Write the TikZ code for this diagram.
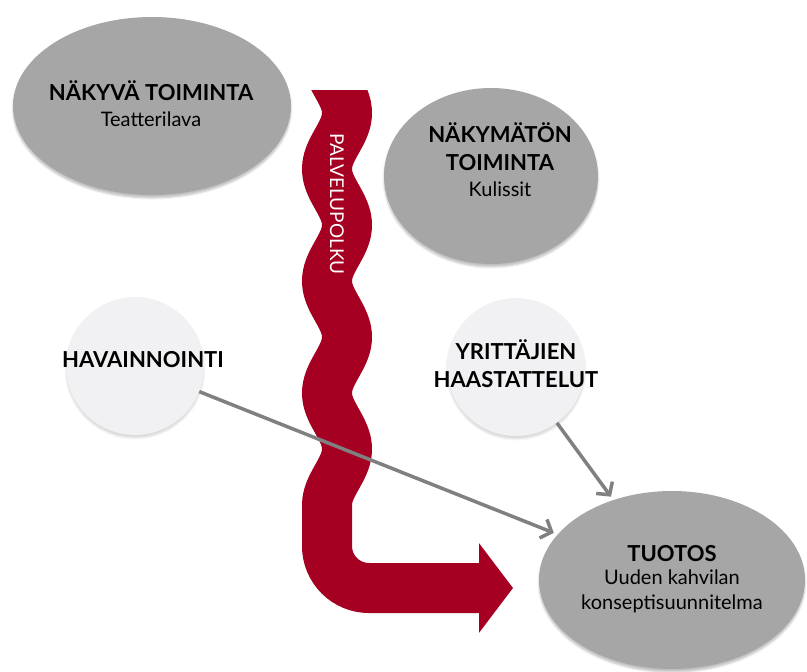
\documentclass[tikz,border=0pt]{standalone}
\usepackage{fontspec}
\setmainfont{Lato}
\usetikzlibrary{arrows.meta,positioning,shapes.geometric,shadows.blur}
\definecolor{blobgray}{HTML}{A6A6A6}
\definecolor{dotgray}{HTML}{F1F1F3}
\definecolor{pathred}{HTML}{A50021}
\definecolor{flowgray}{HTML}{808080}

\begin{document}
\begin{tikzpicture}[
    x=1pt, y=-1pt,
    blob/.style={ellipse, fill=blobgray, inner sep=0pt,
                 blur shadow={shadow xshift=0pt, shadow yshift=-3pt, shadow opacity=25}},
    dot/.style={circle, fill=dotgray, inner sep=0pt, minimum size=138pt,
                blur shadow={shadow xshift=0pt, shadow yshift=-3pt, shadow opacity=15}},
    title/.style={align=center, inner sep=1pt, font=\bfseries\fontsize{22}{28}\selectfont},
    sub/.style={align=center, inner sep=1pt, font=\fontsize{20}{25}\selectfont},
    flow/.style={-{Straight Barb[length=9pt, width=20pt]}, line width=3.5pt,
                 draw=flowgray, shorten >=4pt}]
  \useasboundingbox (0,0) rectangle (807,672);
  % ellipses and circles
  \node[blob, minimum width=278pt, minimum height=178pt] (nakyva) at (152,106) {};
  \node[blob, minimum width=214pt, minimum height=176pt] (nakymaton) at (491,176) {};
  \node[dot] (hav) at (135,366) {};
  \node[dot] (yrit) at (516,367) {};
  \node[blob, minimum width=266pt, minimum height=178pt] (tuotos) at (672,580) {};
  % texts
  \node[title] (nakyvat) at (151,91) {NÄKYVÄ TOIMINTA};
  \node[sub, below=8pt of nakyvat] (teatteri) {Teatterilava};
  \node[title] (nakymatont) at (500,147) {NÄKYMÄTÖN\\TOIMINTA};
  \node[sub, below=8pt of nakymatont] (kulissit) {Kulissit};
  \node[title] (havt) at (143,360) {HAVAINNOINTI};
  \node[title] (yritt) at (516,364) {YRITTÄJIEN\\HAASTATTELUT};
  \node[title] (tuotost) at (672,554) {TUOTOS};
  \node[sub, below=5pt of tuotost] (kahvila) {Uuden kahvilan\\konseptisuunnitelma};
  % palvelupolku
  \begin{scope}
    \clip (0,90) rectangle (807,672);
    \draw[pathred, line width=50pt, -{Triangle[length=34pt, width=88pt]}]
      plot[domain=72:505, samples=90, smooth] ({337+10*sin((\x-85)/112*360)}, \x)
      -- (327,546) arc[start angle=180, end angle=90, radius=42] -- (513,588);
  \end{scope}
  \node[rotate=-90, text=white, font=\fontsize{19}{20}\selectfont] (palvelu) at (337,204) {PALVELUPOLKU};
  % arrows
  \draw[flow] (hav) -- (tuotos);
  \draw[flow] (yrit) -- (tuotos);
\end{tikzpicture}
\end{document}
